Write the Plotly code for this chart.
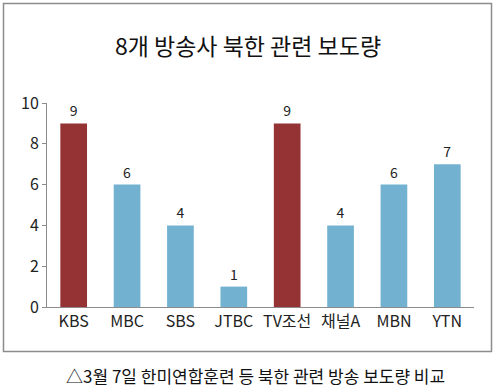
import plotly.graph_objects as go

categories = ["KBS", "MBC", "SBS", "JTBC", "TV조선", "채널A", "MBN", "YTN"]
values = [9, 6, 4, 1, 9, 4, 6, 7]
bar_colors = ["#943234", "#73B1D1", "#73B1D1", "#73B1D1", "#943234", "#73B1D1", "#73B1D1", "#73B1D1"]
title_text = "8개 방송사 북한 관련 보도량"
caption_text = "△3월 7일 한미연합훈련 등 북한 관련 방송 보도량 비교"
y_ticks = [0, 2, 4, 6, 8, 10]

W, H = 495, 389
L, R, T, B = 47, 21, 103, 82
pw, ph = W - L - R, H - T - B

def px_x(x):
    return (x - L) / pw

def px_y(y):
    return (H - B - y) / ph

FONT = "Noto Sans CJK KR"

fig = go.Figure(go.Bar(
    x=categories, y=values,
    marker=dict(color=bar_colors, line=dict(width=0)),
    width=0.5,
    text=[str(v) for v in values],
    textposition="outside",
    textfont=dict(size=14, color="#222222", family=FONT),
    cliponaxis=False,
))

fig.update_layout(
    width=W, height=H,
    margin=dict(l=L, r=R, t=T, b=B),
    paper_bgcolor="white", plot_bgcolor="white",
    showlegend=False,
    font=dict(family=FONT, color="#222222"),
    title=dict(text=title_text, x=248 / W, xanchor="center", y=1 - 47 / H, yanchor="middle",
               yref="container", font=dict(size=23, family=FONT, color="#111111")),
    xaxis=dict(showline=True, linecolor="#8c8c8c", linewidth=1, ticks="",
               tickfont=dict(size=16, color="#222222"), showgrid=False, zeroline=False),
    yaxis=dict(range=[0, 10], tickvals=y_ticks, showline=True, linecolor="#8c8c8c", linewidth=1,
               ticks="outside", ticklen=4, tickcolor="#8c8c8c", tickfont=dict(size=16, color="#222222"),
               showgrid=False, zeroline=False),
    shapes=[dict(type="rect", xref="paper", yref="paper",
                 x0=px_x(3.5), x1=px_x(491.5), y0=px_y(351.5), y1=px_y(3.5),
                 line=dict(color="#8c8c8c", width=1.5), fillcolor="rgba(0,0,0,0)", layer="below")],
    annotations=[dict(text=caption_text, xref="paper", yref="paper", x=px_x(255), y=px_y(375),
                      xanchor="center", yanchor="middle", showarrow=False,
                      font=dict(size=17, family=FONT, color="#111111"))],
)

fig.write_html("out.html")
